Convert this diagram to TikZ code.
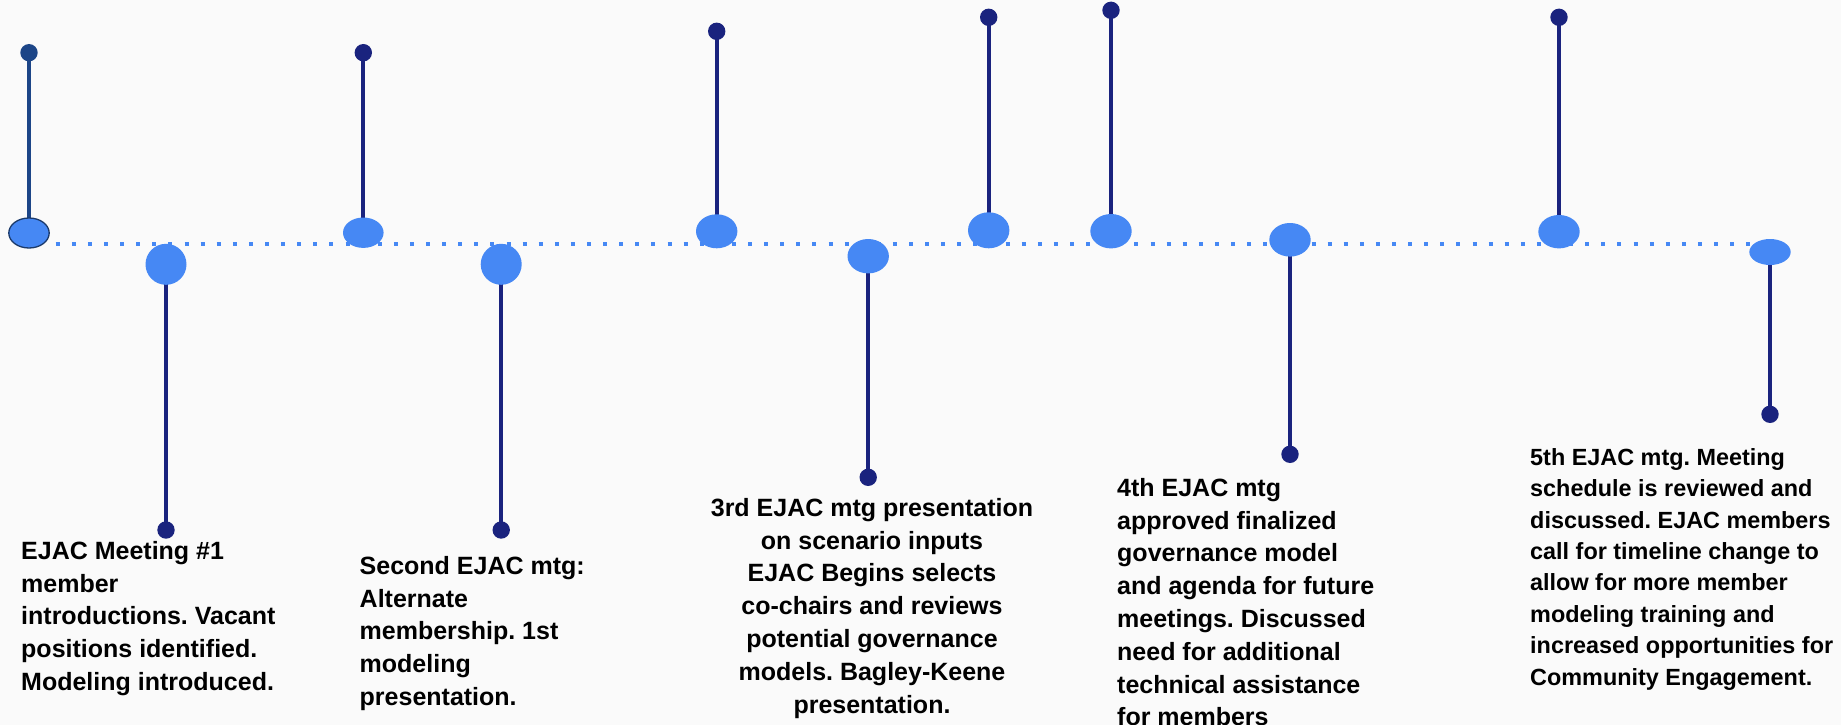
\documentclass[tikz,border=0pt]{standalone}
\usepackage{fontspec}
\setmainfont{Liberation Sans}
\usetikzlibrary{shapes.geometric}
\definecolor{bgc}{HTML}{FAFAFA}
\definecolor{blu}{HTML}{4688F4}
\definecolor{navy}{HTML}{1A237E}
\definecolor{steel}{HTML}{1C4587}
\definecolor{rimc}{HTML}{1B3A6B}
\pgfdeclarelayer{back}
\pgfdeclarelayer{mid}
\pgfsetlayers{back,mid,main}
\frenchspacing
\begin{document}
\begin{tikzpicture}[x=1pt,y=-1pt,
  bub/.style={ellipse, fill=blu, inner sep=0pt, minimum width=41.4pt},
  tipdot/.style={circle, fill=navy, inner sep=0pt, minimum size=17.4pt},
  stemline/.style={draw=navy, line width=4pt},
  lbl/.style={inner sep=0pt, anchor=north west, align=left, text=black,
    font=\fontsize{25}{32.8}\selectfont\bfseries\frenchspacing},
]
\useasboundingbox (0,0) rectangle (1841,725);
\begin{pgfonlayer}{back}
  \fill[bgc] (0,0) rectangle (1841,725);
\end{pgfonlayer}

% timeline bubbles
\node[bub, minimum height=30pt, draw=rimc, line width=1.3pt, minimum width=40.4pt] (e1) at (29,233) {};
\node[bub, minimum width=41pt, minimum height=41pt] (e2) at (166,264.3) {};
\node[bub, minimum width=40.6pt, minimum height=30.4pt] (e3) at (363.3,232.7) {};
\node[bub, minimum width=41pt, minimum height=41pt] (e4) at (501.2,264.3) {};
\node[bub, minimum height=34pt] (e5) at (716.7,231.3) {};
\node[bub, minimum height=34.4pt] (e6) at (868.2,256.2) {};
\node[bub, minimum height=36pt] (e7) at (988.7,230.3) {};
\node[bub, minimum height=34.4pt] (e8) at (1111,231.2) {};
\node[bub, minimum height=33.6pt] (e9) at (1290,239.8) {};
\node[bub, minimum height=33.4pt] (e10) at (1559,231.7) {};
\node[bub, minimum height=26pt] (e11) at (1770,252) {};

% end dots
\node[tipdot, fill=steel] (d1) at (29,52.7) {};
\node[tipdot] (d2) at (166,530) {};
\node[tipdot] (d3) at (363.3,52.7) {};
\node[tipdot] (d4) at (501.2,530) {};
\node[tipdot] (d5) at (716.7,31.3) {};
\node[tipdot] (d6) at (868.2,477.3) {};
\node[tipdot] (d7) at (988.7,17.3) {};
\node[tipdot] (d8) at (1111,10.3) {};
\node[tipdot] (d9) at (1290,454.3) {};
\node[tipdot] (d10) at (1559,17.3) {};
\node[tipdot] (d11) at (1770,414.3) {};

\coordinate (tl0) at (55.7,243.7);
\coordinate (tl1) at (1760,243.7);

\begin{pgfonlayer}{mid}
  \draw[blu, line width=4pt, dash pattern=on 4pt off 12.1pt] (tl0) -- (tl1);
  \draw[stemline, draw=steel] (d1.center) -- (e1.center);
  \draw[stemline] (d2.center) -- (e2.center);
  \draw[stemline] (d3.center) -- (e3.center);
  \draw[stemline] (d4.center) -- (e4.center);
  \draw[stemline] (d5.center) -- (e5.center);
  \draw[stemline] (d6.center) -- (e6.center);
  \draw[stemline] (d7.center) -- (e7.center);
  \draw[stemline] (d8.center) -- (e8.center);
  \draw[stemline] (d9.center) -- (e9.center);
  \draw[stemline] (d10.center) -- (e10.center);
  \draw[stemline] (d11.center) -- (e11.center);
\end{pgfonlayer}

% labels
\node[lbl] (t1) at (21,539) {\rule{0pt}{20pt}EJAC Meeting \#1\\member\\introductions. Vacant\\positions identified.\\Modeling introduced.};
\node[lbl] (t2) at (359.5,554) {\rule{0pt}{20pt}Second EJAC mtg:\\Alternate\\membership. 1st\\modeling\\presentation.};
\node[lbl, anchor=north, align=center] (t3) at (872,496) {\rule{0pt}{20pt}3rd EJAC mtg presentation\\on scenario inputs\\EJAC Begins selects\\co-chairs and reviews\\potential governance\\models. Bagley-Keene\\presentation.};
\node[lbl] (t4) at (1117,476) {\rule{0pt}{20pt}4th EJAC mtg\\approved finalized\\governance model\\and agenda for future\\meetings. Discussed\\need for additional\\technical assistance\\for members};
\node[lbl, font=\fontsize{23.4}{31.4}\selectfont\bfseries\frenchspacing] (t5) at (1530,445) {\rule{0pt}{20pt}5th EJAC mtg. Meeting\\schedule is reviewed and\\discussed. EJAC members\\call for timeline change to\\allow for more member\\modeling training and\\increased opportunities for\\Community Engagement.};
\end{tikzpicture}
\end{document}
